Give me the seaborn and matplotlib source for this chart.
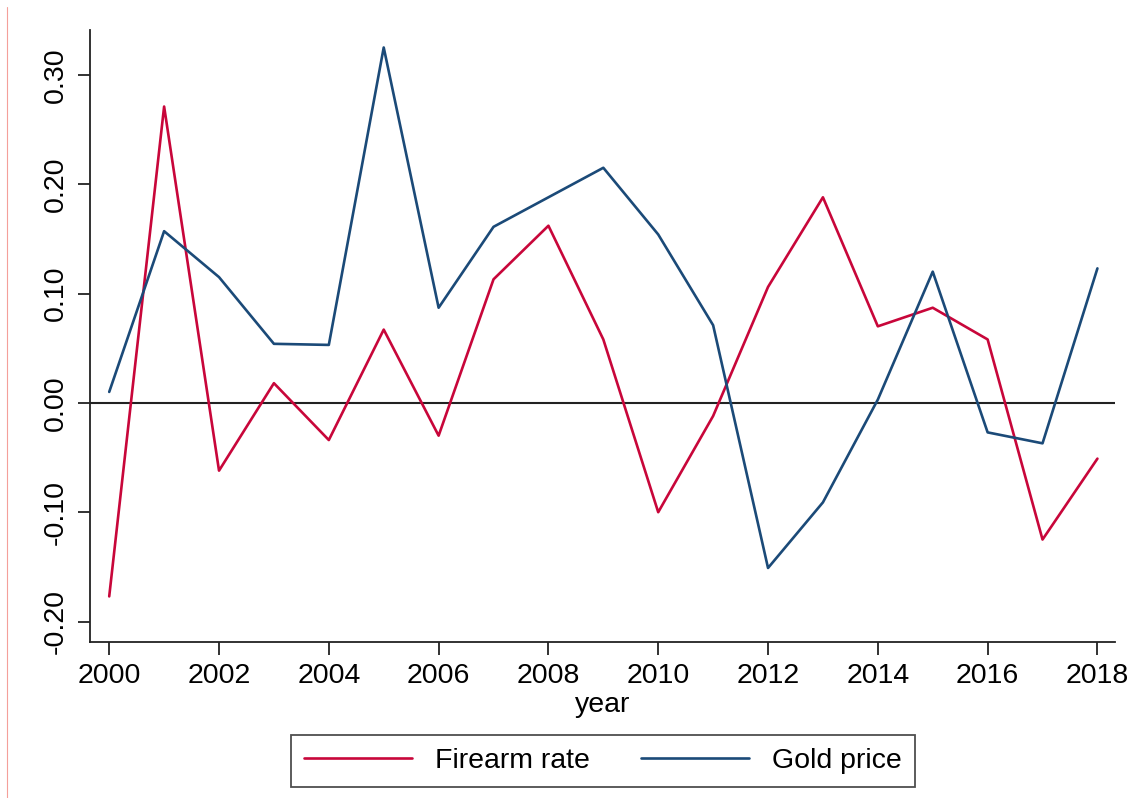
import numpy as np
import pandas as pd
import matplotlib
matplotlib.use("Agg")
import matplotlib.pyplot as plt
import seaborn as sns
from matplotlib.lines import Line2D

# values
years = list(range(2000, 2019))
firearm_rate = [-0.177, 0.271, -0.062, 0.018, -0.034, 0.067, -0.030, 0.113, 0.162, 0.058,
                -0.100, -0.012, 0.106, 0.188, 0.070, 0.087, 0.058, -0.125, -0.051]
gold_price = [0.010, 0.157, 0.115, 0.054, 0.053, 0.325, 0.087, 0.161, 0.188, 0.215,
              0.154, 0.071, -0.151, -0.091, 0.003, 0.120, -0.027, -0.037, 0.123]
series_names = ["Firearm rate", "Gold price"]
x_ticks = list(range(2000, 2019, 2))
y_ticks = [-0.20, -0.10, 0.00, 0.10, 0.20, 0.30]
y_tick_labels = ["-0.20", "-0.10", "0.00", "0.10", "0.20", "0.30"]

df = pd.DataFrame({
    "year": years * 2,
    "value": firearm_rate + gold_price,
    "series": [series_names[0]] * len(years) + [series_names[1]] * len(years),
})

sns.set_theme(style="white")
plt.rcParams["font.family"] = ["Liberation Sans", "DejaVu Sans"]
plt.rcParams["text.color"] = "black"
plt.rcParams["axes.labelcolor"] = "black"
plt.rcParams["xtick.color"] = "black"
plt.rcParams["ytick.color"] = "black"

fig = plt.figure(figsize=(11.35, 7.98), dpi=100)
ax = fig.add_axes([90 / 1135, 1 - 642 / 798, (1115 - 90) / 1135, (642 - 30) / 798])

palette = {"Firearm rate": "#C8063A", "Gold price": "#1B4A78"}
sns.lineplot(data=df, x="year", y="value", hue="series", palette=palette,
             linewidth=1.9, ax=ax, legend=False)

ax.axhline(0, color="#222222", linewidth=1.5, zorder=1)

ax.set_xlim(1999.65, 2018.32)
ax.set_ylim(-0.2187, 0.341)
ax.set_xticks(x_ticks)
ax.set_xticklabels([str(y) for y in x_ticks], fontsize=20.5)
ax.set_yticks(y_ticks)
ax.set_yticklabels(y_tick_labels, fontsize=20.5, rotation=90, va="center")
ax.tick_params(axis="both", direction="out", length=9, width=1.3, color="#222222",
               left=True, bottom=True, pad=6)
ax.set_xlabel("year", fontsize=20.5, labelpad=2)
ax.set_ylabel("")

for side in ["top", "right"]:
    ax.spines[side].set_visible(False)
for side in ["left", "bottom"]:
    ax.spines[side].set_color("#222222")
    ax.spines[side].set_linewidth(1.3)

handles = [Line2D([0], [0], color=palette[n], linewidth=1.9) for n in series_names]
leg = fig.legend(handles, series_names, loc="center", ncol=2, fontsize=20.5,
                 bbox_to_anchor=(603 / 1135, 1 - 761 / 798), frameon=True,
                 fancybox=False, edgecolor="#222222", handlelength=3.8,
                 columnspacing=1.8, handletextpad=0.8, borderpad=0.45)
leg.get_frame().set_linewidth(1.3)

# faint border line at left edge of the screenshot
fig.add_artist(Line2D([7 / 1135, 7 / 1135], [0, 1 - 7 / 798], color="#F4A09A",
                      linewidth=0.8, transform=fig.transFigure))

fig.savefig("out.png", dpi=100, facecolor="white")
